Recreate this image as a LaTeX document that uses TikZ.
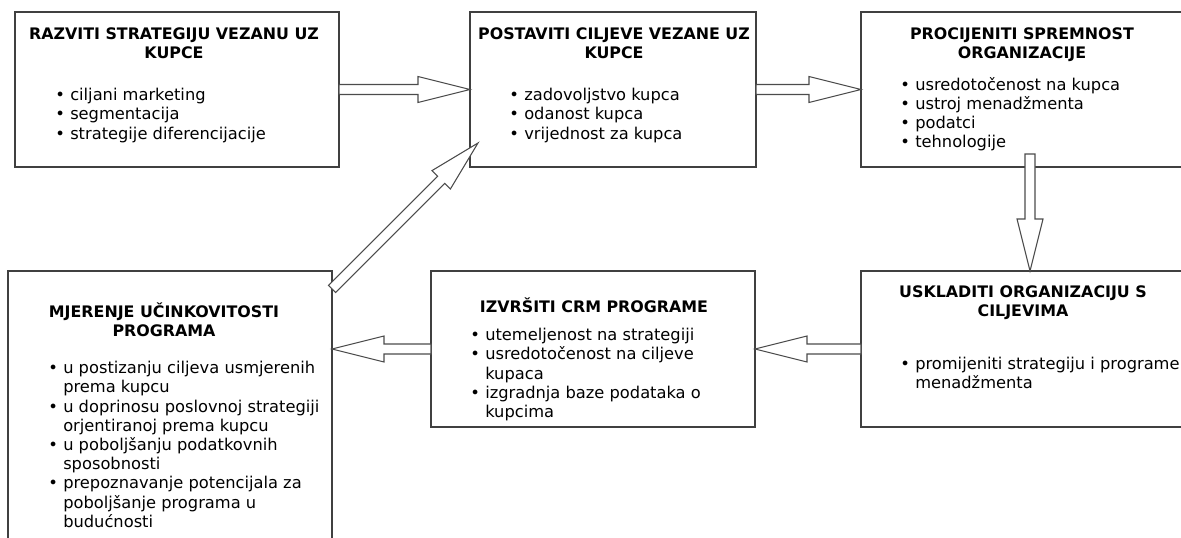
\documentclass[tikz,border=0pt]{standalone}
\usepackage{fontspec}
\setmainfont{DejaVu Sans}
\usetikzlibrary{calc}
\tikzset{
    box/.style={rectangle,draw=black!75,line width=1pt,inner sep=0pt,outer sep=0pt,anchor=north west},
    ttl/.style={anchor=north,inner sep=0pt,align=center,font=\fontsize{11.9}{14.25}\selectfont\bfseries,execute at begin node=\tp},
    lst/.style={anchor=north west,inner sep=0pt,align=left,font=\fontsize{12.2}{14.4}\selectfont,execute at begin node=\tp},
    harrow/.style={draw=black!70,line width=0.8pt,fill=white,line join=miter},
}
\newcommand{\tp}{\rule{0pt}{12pt}}
\newcommand{\itm}{\llap{\textbullet\hspace{4pt}}}
\newcommand{\hollowarrow}[2]{%
    \coordinate (hb) at ($(#2)!39pt!(#1)$);
    \draw[harrow] ($(#1)!3.75pt!90:(#2)$) -- ($(hb)!3.75pt!90:(#2)$) -- ($(hb)!9.75pt!90:(#2)$) -- (#2)
        -- ($(hb)!9.75pt!-90:(#2)$) -- ($(hb)!3.75pt!-90:(#2)$) -- ($(#1)!3.75pt!-90:(#2)$) -- cycle;}

\begin{document}
\begin{tikzpicture}[x=0.75pt,y=-0.75pt]
    \useasboundingbox (0,0) rectangle (1181,538);
    \clip (0,0) rectangle (1181,538);
    \node[box,minimum width=243pt,minimum height=116.25pt] (b1) at (15,12) {};
    \node[box,minimum width=214.5pt,minimum height=116.25pt] (b2) at (470,12) {};
    \node[box,minimum width=253.5pt,minimum height=116.25pt] (b3) at (861,12) {};
    \node[box,minimum width=243pt,minimum height=225pt] (b4) at (8,271) {};
    \node[box,minimum width=243pt,minimum height=117pt] (b5) at (431,271) {};
    \node[box,minimum width=253.5pt,minimum height=117pt] (b6) at (861,271) {};

    \node[ttl] (t1) at (174,27) {RAZVITI STRATEGIJU VEZANU UZ\\KUPCE};
    \node[ttl] (t2) at (614,27) {POSTAVITI CILJEVE VEZANE UZ\\KUPCE};
    \node[ttl] (t3) at (1022,27) {PROCIJENITI SPREMNOST\\ORGANIZACIJE};
    \node[ttl] (t4) at (164,303) {MJERENJE UČINKOVITOSTI\\PROGRAMA};
    \node[ttl] (t5) at (594,296.5) {IZVRŠITI CRM PROGRAME};
    \node[ttl] (t6) at (1023,285.5) {USKLADITI ORGANIZACIJU S\\CILJEVIMA};

    \node[lst] (l1) at (70,88) {\itm ciljani marketing\\\itm segmentacija\\\itm strategije diferencijacije};
    \node[lst] (l2) at (524,88) {\itm zadovoljstvo kupca\\\itm odanost kupca\\\itm vrijednost za kupca};
    \node[lst] (l3) at (915,77) {\itm usredotočenost na kupca\\\itm ustroj menadžmenta\\\itm podatci\\\itm tehnologije};
    \node[lst] (l4) at (63,361) {\itm u postizanju ciljeva usmjerenih\\prema kupcu\\\itm u doprinosu poslovnoj strategiji\\orjentiranoj prema kupcu\\\itm u poboljšanju podatkovnih\\sposobnosti\\\itm prepoznavanje potencijala za\\poboljšanje programa u\\budućnosti};
    \node[lst] (l5) at (485,328) {\itm utemeljenost na strategiji\\\itm usredotočenost na ciljeve\\kupaca\\\itm izgradnja baze podataka o\\kupcima};
    \node[lst] (l6) at (915,357) {\itm promijeniti strategiju i programe\\menadžmenta};

    \coordinate (v1) at ([yshift=9.75pt]b3.south);
    \coordinate (h5) at (b5.west -| b4.east);
    \coordinate (d1) at ([yshift=-13.5pt]b4.north east);
    \coordinate (d2) at ([shift={(6pt,18pt)}]b2.south west);
    \hollowarrow{b1.east}{b2.west}
    \hollowarrow{b2.east}{b3.west}
    \hollowarrow{v1}{b6.north}
    \hollowarrow{b6.west}{b5.east}
    \hollowarrow{b5.west}{h5}
    \hollowarrow{d1}{d2}
\end{tikzpicture}
\end{document}
